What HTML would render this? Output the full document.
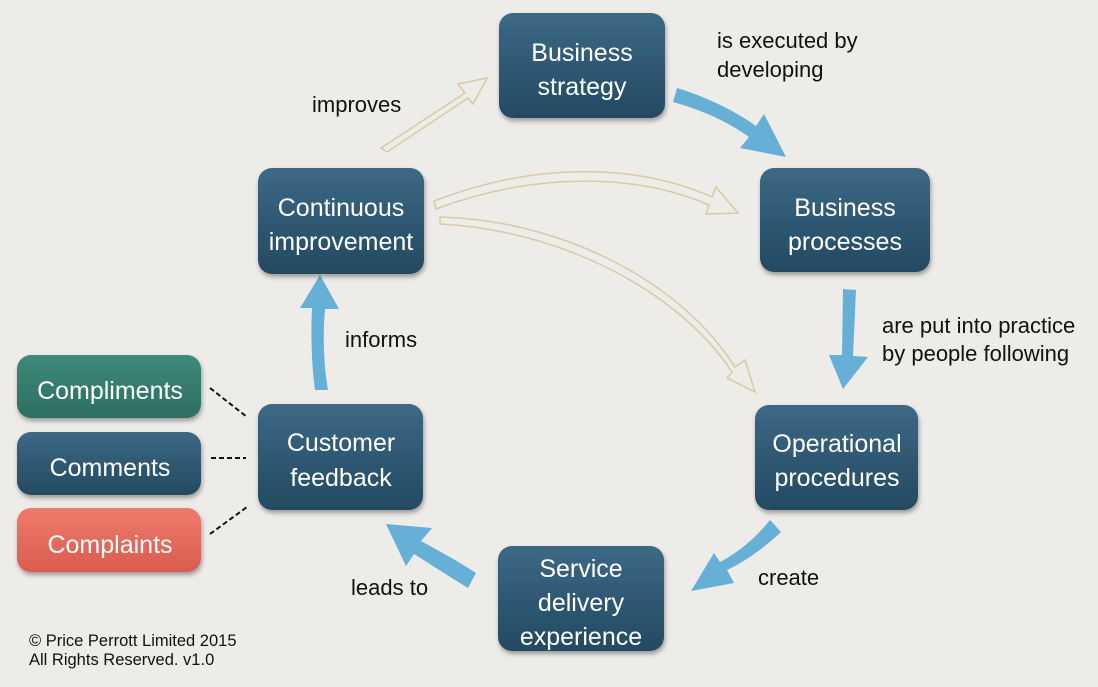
<!DOCTYPE html>
<html><head><style>
body{margin:0;background:#eeece9;}
svg{display:block;font-family:"Liberation Sans",sans-serif;}
</style></head><body>
<svg width="1098" height="687" viewBox="0 0 1098 687" xmlns="http://www.w3.org/2000/svg">
<defs>
<linearGradient id="gb" x1="0" y1="0" x2="0" y2="1"><stop offset="0" stop-color="#3d6985"/><stop offset="0.5" stop-color="#2f5873"/><stop offset="1" stop-color="#244a62"/></linearGradient>
<linearGradient id="gg" x1="0" y1="0" x2="0" y2="1"><stop offset="0" stop-color="#3f8a7a"/><stop offset="1" stop-color="#2c6e60"/></linearGradient>
<linearGradient id="gr" x1="0" y1="0" x2="0" y2="1"><stop offset="0" stop-color="#ee7a6c"/><stop offset="1" stop-color="#da5c4f"/></linearGradient>
<filter id="sh"><feDropShadow dx="1" dy="3" stdDeviation="2.5" flood-color="#000" flood-opacity="0.35"/></filter>
</defs>
<rect width="1098" height="687" fill="#eeece9"/>
<g fill="none" stroke="#d6cba2" stroke-width="1.5">
<path d="M381,148 L465,93 L458,84 L487,78 L473,104 L468,98 L387,152 Z"/>
<path d="M434,201 C540,160 640,165 712,197 L716,187 L738,213 L706,214 L709,205 C640,175 540,170 436,209 Z"/>
<path d="M440,217 C560,220 680,280 735,367 L745,360 L755,392 L727,378 L732,372 C678,290 560,230 440,224 Z"/>
</g>
<g fill="#66afd6">
<path d="M677,88 C710,98 738,113 756,126 L764,114 L786,157 L740,148 L749,137 C731,124 708,112 673,102 Z"/>
<path d="M843,289 L856,290 L853,356 L868,357 L843,389 L829,355 L842,355 Z"/>
<path d="M770,520 L781,532 C762,550 742,563 727,570 L734,583 L691,591 L714,553 L720,562 C737,553 754,540 770,520 Z"/>
<path d="M476,573 L468,588 C450,577 430,564 414,554 L406,566 L386,524 L432,528 L421,541 C439,551 458,561 476,573 Z"/>
<path d="M328,390 L315,390 C311,360 311,330 312,308 L300,308 L320,275 L339,309 L325,309 C323,332 323,360 328,390 Z"/>
</g>
<g stroke="#111" stroke-width="2" stroke-dasharray="5,3">
<line x1="210" y1="388" x2="247" y2="417"/>
<line x1="211" y1="458" x2="246" y2="458"/>
<line x1="210" y1="534" x2="247" y2="507"/>
</g>
<g filter="url(#sh)">
<rect x="499" y="13" width="166" height="105" rx="14" fill="url(#gb)"/>
<rect x="258" y="168" width="166" height="106" rx="14" fill="url(#gb)"/>
<rect x="760" y="168" width="170" height="104" rx="14" fill="url(#gb)"/>
<rect x="755" y="405" width="163" height="105" rx="14" fill="url(#gb)"/>
<rect x="258" y="404" width="165" height="106" rx="14" fill="url(#gb)"/>
<rect x="498" y="546" width="166" height="105" rx="14" fill="url(#gb)"/>
<rect x="17" y="355" width="184" height="63" rx="14" fill="url(#gg)"/>
<rect x="17" y="432" width="184" height="63" rx="14" fill="url(#gb)"/>
<rect x="17" y="508" width="184" height="64" rx="14" fill="url(#gr)"/>
</g>
<g fill="#fff" font-size="25" text-anchor="middle">
<text x="582" y="61">Business</text><text x="582" y="95">strategy</text>
<text x="341" y="216">Continuous</text><text x="341" y="250">improvement</text>
<text x="845" y="216">Business</text><text x="845" y="250">processes</text>
<text x="837" y="452">Operational</text><text x="837" y="486">procedures</text>
<text x="341" y="451">Customer</text><text x="341" y="486">feedback</text>
<text x="581" y="577">Service</text><text x="581" y="611">delivery</text><text x="581" y="645">experience</text>
<text x="110" y="399">Compliments</text>
<text x="110" y="476">Comments</text>
<text x="110" y="553">Complaints</text>
</g>
<g fill="#111" font-size="22">
<text x="312" y="112">improves</text>
<text x="717" y="48">is executed by</text><text x="717" y="77">developing</text>
<text x="882" y="333">are put into practice</text><text x="882" y="361">by people following</text>
<text x="345" y="347">informs</text>
<text x="758" y="585">create</text>
<text x="351" y="595">leads to</text>
</g>
<g fill="#111" font-size="16.5">
<text x="29" y="646">© Price Perrott Limited 2015</text>
<text x="29" y="665">All Rights Reserved.  v1.0</text>
</g>
</svg>
</body></html>
